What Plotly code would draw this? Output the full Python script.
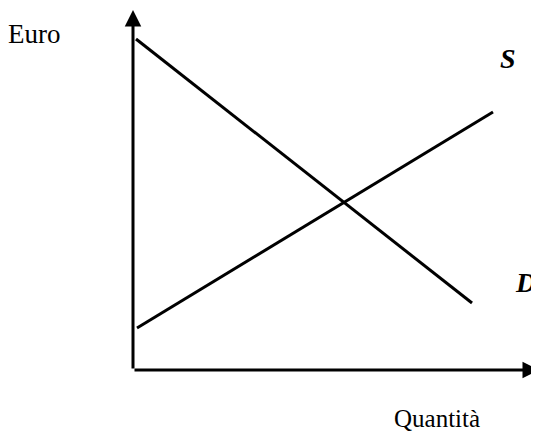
import plotly.graph_objects as go

# Curve di domanda e offerta (unità arbitrarie, origine = incrocio assi)
domanda_q = [0.3, 33.9]
domanda_p = [33.1, 6.7]
offerta_q = [0.4, 36.0]
offerta_p = [4.2, 25.8]

# Lunghezza degli assi
asse_q_max = 40.6
asse_p_max = 36.0

fig = go.Figure()

fig.add_trace(go.Scatter(x=domanda_q, y=domanda_p, mode='lines',
                         line=dict(color='black', width=3), name='D'))
fig.add_trace(go.Scatter(x=offerta_q, y=offerta_p, mode='lines',
                         line=dict(color='black', width=3), name='S'))

serif = "Liberation Serif, Times New Roman, serif"

# Assi con frecce
for tip, tail in [((0, asse_p_max), (0, 0)), ((asse_q_max, 0), (0, 0))]:
    fig.add_annotation(x=tip[0], y=tip[1], ax=tail[0], ay=tail[1],
                       xref='x', yref='y', axref='x', ayref='y',
                       text='', showarrow=True, arrowhead=2,
                       arrowwidth=3, arrowsize=1.1, arrowcolor='black',
                       standoff=0)

# Etichette
fig.add_annotation(x=-12.45, y=33.6, xshift=-3, text='Euro', showarrow=False,
                   xanchor='left', yanchor='middle',
                   font=dict(family=serif, size=27, color='black'))
fig.add_annotation(x=25.9, y=-4.8, text='Quantità', showarrow=False,
                   xanchor='left', yanchor='middle',
                   font=dict(family=serif, size=25, color='black'))
fig.add_annotation(x=37.5, y=31.2, text='<b><i>S</i></b>', showarrow=False,
                   xanchor='center', yanchor='middle',
                   font=dict(family=serif, size=28, color='black'))
fig.add_annotation(x=38.0, y=8.8, text='<b><i>D</i></b>', showarrow=False,
                   xanchor='left', yanchor='middle',
                   font=dict(family=serif, size=28, color='black'))

# la pagina ha un margine di 8 px: intervalli spostati di conseguenza
fig.update_layout(
    width=531, height=427,
    margin=dict(l=0, r=0, t=0, b=0),
    showlegend=False,
    plot_bgcolor='white', paper_bgcolor='white',
    xaxis=dict(range=[-12.5, 40.6], visible=False, fixedrange=True),
    yaxis=dict(range=[-6.5, 36.2], visible=False, fixedrange=True),
)

fig.write_html("out.html")
